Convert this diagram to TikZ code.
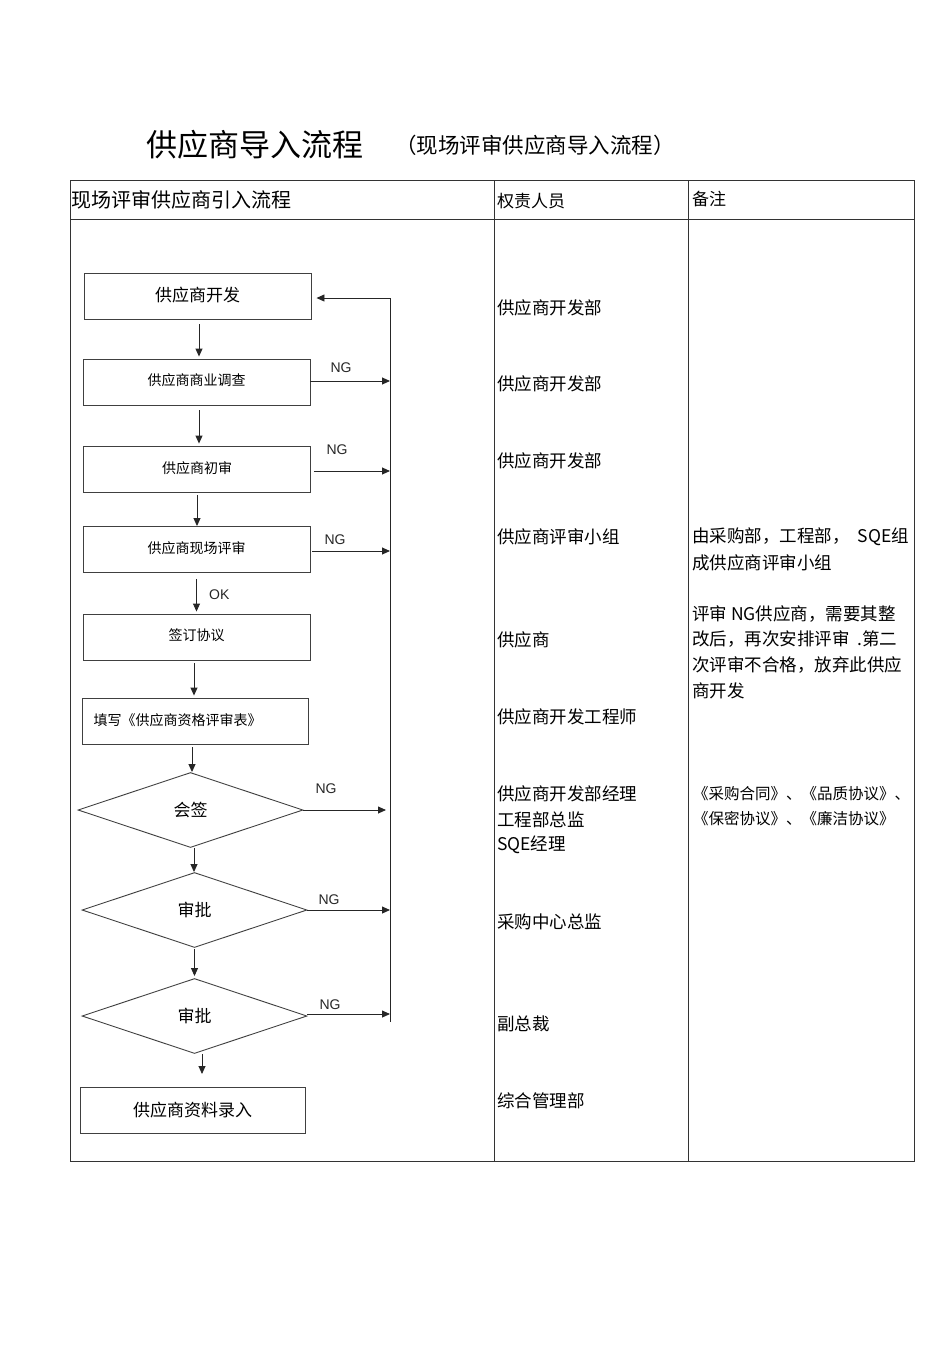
\documentclass[tikz,border=0pt]{standalone}
\usepackage{fontspec}
\setmainfont{Liberation Sans}
\newfontfamily\cjk{Noto Sans CJK SC}
\usetikzlibrary{arrows.meta,shapes.geometric}
\newcommand{\fsz}[1]{\fontsize{#1}{#1}\selectfont}
\tikzset{
  frame/.style={draw=black!80, line width=0.9pt},
  box/.style={draw=black!75, line width=0.9pt, minimum width=227pt, minimum height=46pt, inner sep=0pt, font=\cjk\fsz{14}},
  dia/.style={draw=black!75, line width=0.9pt, diamond, aspect=3, minimum width=225pt, minimum height=75pt, inner sep=0pt, font=\cjk\fsz{17}},
  arr/.style={draw=black!85, line width=0.9pt, -{Triangle[length=8pt,width=7pt]}},
  ln/.style={draw=black!85, line width=0.9pt},
  ng/.style={font=\fsz{14}, text=black!85},
  col/.style={anchor=west, inner sep=0pt, font=\cjk\fsz{17.5}},
}
\begin{document}
\begin{tikzpicture}[x=1pt,y=-1pt]
\useasboundingbox (0,0) rectangle (950,1345);
% title
\node[inner sep=0pt, font=\cjk\fsz{31}] (title) at (255,145) {供应商导入流程};
\node[inner sep=0pt, font=\cjk\fsz{21.5}] (subtitle) at (535,145) {（现场评审供应商导入流程）};
% table frame
\draw[frame] (70,180) rectangle (914,1161);
\draw[frame] (70,219) -- (914,219);
\draw[frame] (494,180) -- (494,1161);
\draw[frame] (688,180) -- (688,1161);
\node[anchor=west, inner sep=0pt, font=\cjk\fsz{20}] (h1) at (71,200) {现场评审供应商引入流程};
\node[col, font=\cjk\fsz{17}] (h2) at (497,201) {权责人员};
\node[col, font=\cjk\fsz{17}] (h3) at (692,199) {备注};
% flow boxes
\node[box, font=\cjk\fsz{17}] (b1) at (197.5,296) {\raisebox{4pt}{供应商开发}};
\node[box] (b2) at (196.5,382) {\raisebox{4pt}{供应商商业调查}};
\node[box] (b3) at (197,469) {\raisebox{3pt}{供应商初审}};
\node[box] (b4) at (196.5,549.5) {\raisebox{4pt}{供应商现场评审}};
\node[box] (b5) at (196.5,637) {\raisebox{4pt}{签订协议}};
\node[box, text width=203pt, align=left, minimum width=226pt] (b6) at (195,721) {\raisebox{3pt}{填写《供应商资格评审表》}};
\node[dia] (d1) at (190.5,810) {会签};
\node[dia] (d2) at (194.5,910) {审批};
\node[dia] (d3) at (194.5,1016) {审批};
\node[box, font=\cjk\fsz{17}, minimum width=225pt] (b7) at (192.5,1110) {供应商资料录入};
% rail
\coordinate (railtop) at (390,298);
\coordinate (railbot) at (390,1022);
\coordinate (endarr) at (202,1074);
\draw[ln] (railbot) -- (railtop);
\draw[arr, shorten >=5pt] (railtop) -- (railtop -| b1.east);
% down arrows
\draw[arr, shorten <=5pt, shorten >=2pt] ([xshift=1.5pt]b1.south) -- ([xshift=1.5pt]b1.south |- b2.north);
\draw[arr, shorten <=5pt, shorten >=2pt] ([xshift=2.5pt]b2.south) -- ([xshift=2.5pt]b2.south |- b3.north);
\draw[arr, shorten <=3pt, shorten >=0pt] (b3.south) -- (b3.south |- b4.north);
\draw[arr, shorten <=6pt, shorten >=2pt] (b4.south) -- (b4.south |- b5.north);
\draw[arr, shorten <=3pt, shorten >=2pt] ([xshift=-2.5pt]b5.south) -- ([xshift=-2.5pt]b5.south |- b6.north);
\draw[arr, shorten <=3pt, shorten >=0pt] ([xshift=-3pt]b6.south) -- ([xshift=-3pt]b6.south |- d1.north);
\draw[arr, shorten >=0pt] ([xshift=3.5pt]d1.south) -- ([xshift=3.5pt]d1.south |- d2.north);
\draw[arr, shorten <=1pt, shorten >=2pt] (d2.south) -- (d2.south |- d3.north);
\draw[arr] (d3.south -| endarr) -- (endarr);
\node[ng, anchor=west, inner sep=0pt] (ok) at (209,595) {OK};
% NG arrows
\draw[arr] ([yshift=1pt]b2.east) -- ([yshift=1pt]b2.east -| railtop);
\node[ng, inner sep=0pt] (ng1) at (341,368) {NG};
\draw[arr, shorten <=3pt] ([yshift=-2pt]b3.east) -- ([yshift=-2pt]b3.east -| railtop);
\node[ng, inner sep=0pt] (ng2) at (337,450) {NG};
\draw[arr, shorten <=2pt] ([yshift=-1.5pt]b4.east) -- ([yshift=-1.5pt]b4.east -| railtop);
\node[ng, inner sep=0pt] (ng3) at (335,540) {NG};
\draw[arr, shorten >=4pt] (d1.east) -- (d1.east -| railtop);
\node[ng, inner sep=0pt] (ng4) at (326,789) {NG};
\draw[arr] (d2.east) -- (d2.east -| railtop);
\node[ng, inner sep=0pt] (ng5) at (329,900) {NG};
\draw[arr] ([yshift=2pt]d3.east) -- ([yshift=2pt]d3.east -| railtop);
\node[ng, inner sep=0pt] (ng6) at (330,1005) {NG};
% responsibility column
\node[col] (r1) at (497,308) {供应商开发部};
\node[col] (r2) at (497,384) {供应商开发部};
\node[col] (r3) at (497,461) {供应商开发部};
\node[col] (r4) at (497,537) {供应商评审小组};
\node[col] (r5) at (497,640) {供应商};
\node[col] (r6) at (497,717) {供应商开发工程师};
\node[col] (r7) at (497,794) {供应商开发部经理};
\node[col] (r8) at (497,820) {工程部总监};
\node[col] (r9) at (497,845) {SQE经理};
\node[col] (r10) at (497,922) {采购中心总监};
\node[col] (r11) at (497,1024) {副总裁};
\node[col] (r12) at (497,1101) {综合管理部};
% remarks column
\node[col] (n1) at (692,537) {由采购部，工程部，\hspace{8pt}SQE组};
\node[col] (n2) at (692,563) {成供应商评审小组};
\node[col] (n3) at (692,614) {评审 NG供应商，需要其整};
\node[col] (n4) at (692,639) {改后，再次安排评审 \hspace{4pt}.第二};
\node[col] (n5) at (692,665) {次评审不合格，放弃此供应};
\node[col] (n6) at (692,691) {商开发};
\node[col, font=\cjk\fsz{15.5}] (n7) at (693,794) {《采购合同》、《品质协议》、};
\node[col, font=\cjk\fsz{15.5}] (n8) at (693,819) {《保密协议》、《廉洁协议》};
\end{tikzpicture}
\end{document}
